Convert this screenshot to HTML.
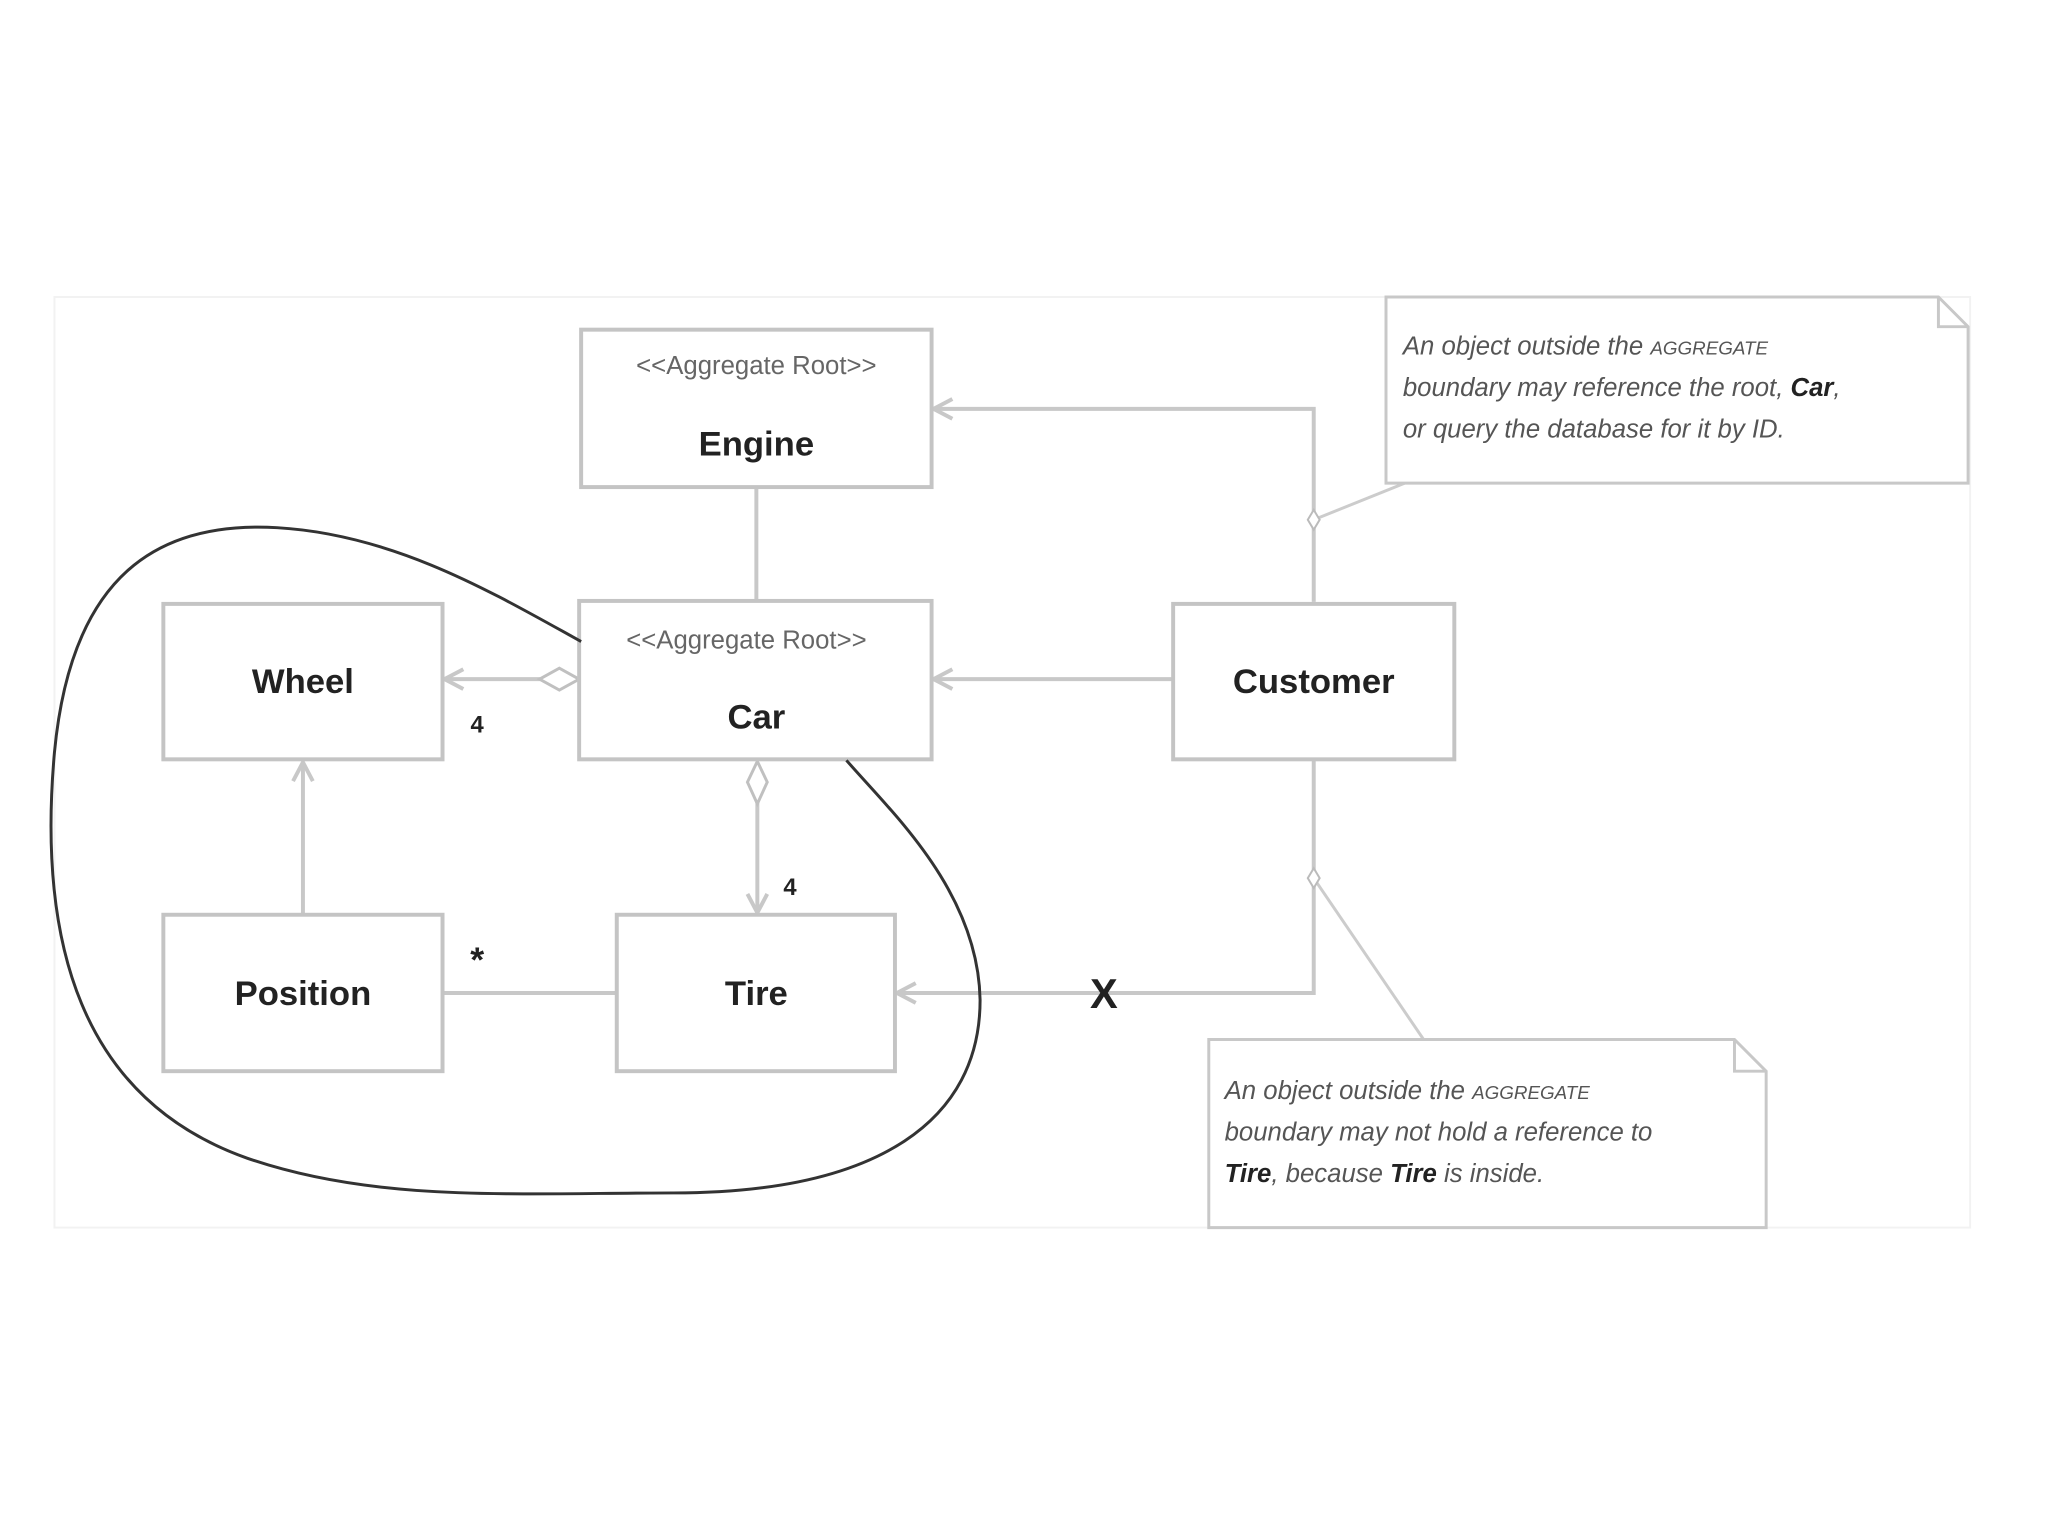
<!DOCTYPE html>
<html><head><meta charset="utf-8"><style>
html,body{margin:0;padding:0;background:#fff;}
svg{display:block;}
.b{fill:#fff;stroke:#c4c4c4;stroke-width:4;}
.st{font-family:"Liberation Sans",sans-serif;font-size:26px;fill:#666;}
.nm{font-family:"Liberation Sans",sans-serif;font-size:35px;font-weight:bold;fill:#222;}
.ln{stroke:#c8c8c8;stroke-width:4;fill:none;}
.nt{font-family:"Liberation Sans",sans-serif;font-size:26px;font-style:italic;fill:#555;}
.sc{font-size:19px;}
</style></head><body>
<svg width="2048" height="1536" viewBox="0 0 2048 1536" xmlns="http://www.w3.org/2000/svg">
<g transform="scale(0.99)">
<rect x="55" y="300" width="1935" height="940" fill="none" stroke="#f2f2f2" stroke-width="2"/>
<line class="ln" x1="764" y1="492" x2="764" y2="607"/>
<polyline class="ln" points="1327,608 1327,413 943,413"/>
<polyline class="ln" points="962,403 943,413 962,423"/>
<line class="ln" x1="1185" y1="686" x2="943" y2="686"/>
<polyline class="ln" points="962,676 943,686 962,696"/>
<polyline class="ln" points="1327,767 1327,1003 906,1003"/>
<polyline class="ln" points="925,993 906,1003 925,1013"/>
<line class="ln" x1="585" y1="686" x2="449" y2="686"/>
<polygon points="585,686 565,675 545,686 565,697" fill="#fff" stroke="#c0c0c0" stroke-width="3"/>
<polyline class="ln" points="468,676 449,686 468,696"/>
<line class="ln" x1="765" y1="810" x2="765" y2="922"/>
<polygon points="765,769 755,790 765,812 775,790" fill="#fff" stroke="#c0c0c0" stroke-width="3"/>
<polyline class="ln" points="755,903 765,922 775,903"/>
<line class="ln" x1="306" y1="924" x2="306" y2="770"/>
<polyline class="ln" points="296,789 306,770 316,789"/>
<line class="ln" x1="449" y1="1003" x2="623" y2="1003"/>
<polyline stroke="#ccc" stroke-width="3" fill="none" points="1327,525 1419,488"/>
<polygon points="1327,515 1321,525 1327,535 1333,525" fill="#fff" stroke="#bbb" stroke-width="2"/>
<polyline stroke="#ccc" stroke-width="3" fill="none" points="1327,887 1438,1050"/>
<polygon points="1327,877 1321,887 1327,897 1333,887" fill="#fff" stroke="#bbb" stroke-width="2"/>
<rect class="b" x="587" y="333" width="354" height="159"/>
<text class="st" x="764" y="378" text-anchor="middle">&lt;&lt;Aggregate Root&gt;&gt;</text>
<text class="nm" x="764" y="460" text-anchor="middle">Engine</text>
<rect class="b" x="585" y="607" width="356" height="160"/>
<text class="st" x="754" y="655" text-anchor="middle">&lt;&lt;Aggregate Root&gt;&gt;</text>
<text class="nm" x="764" y="736" text-anchor="middle">Car</text>
<rect class="b" x="165" y="610" width="282" height="157"/>
<text class="nm" x="306" y="700" text-anchor="middle">Wheel</text>
<rect class="b" x="1185" y="610" width="284" height="157"/>
<text class="nm" x="1327" y="700" text-anchor="middle">Customer</text>
<rect class="b" x="165" y="924" width="282" height="158"/>
<text class="nm" x="306" y="1015" text-anchor="middle">Position</text>
<rect class="b" x="623" y="924" width="281" height="158"/>
<text class="nm" x="764" y="1015" text-anchor="middle">Tire</text>
<text x="482" y="740" font-family="Liberation Sans,sans-serif" font-weight="bold" font-size="24" fill="#222" text-anchor="middle">4</text>
<text x="798" y="904" font-family="Liberation Sans,sans-serif" font-weight="bold" font-size="24" fill="#222" text-anchor="middle">4</text>
<text x="482" y="982" font-family="Liberation Sans,sans-serif" font-weight="bold" font-size="36" fill="#222" text-anchor="middle">*</text>
<text x="1115" y="1018" font-family="Liberation Sans,sans-serif" font-weight="bold" font-size="42" fill="#222" text-anchor="middle">X</text>
<path d="M1400,300 L1958,300 L1988,330 L1988,488 L1400,488 Z" fill="#fff" stroke="#c8c8c8" stroke-width="3"/>
<polyline points="1958,300 1958,330 1988,330" fill="none" stroke="#c8c8c8" stroke-width="3"/>
<text class="nt" x="1417" y="358">An object outside the <tspan class="sc">AGGREGATE</tspan></text>
<text class="nt" x="1417" y="400">boundary may reference the root, <tspan font-weight="bold" fill="#222">Car</tspan>,</text>
<text class="nt" x="1417" y="442">or query the database for it by ID.</text>
<path d="M1221,1050 L1752,1050 L1784,1082 L1784,1240 L1221,1240 Z" fill="#fff" stroke="#c8c8c8" stroke-width="3"/>
<polyline points="1752,1050 1752,1082 1784,1082" fill="none" stroke="#c8c8c8" stroke-width="3"/>
<text class="nt" x="1237" y="1110">An object outside the <tspan class="sc">AGGREGATE</tspan></text>
<text class="nt" x="1237" y="1152">boundary may not hold a reference to</text>
<text class="nt" x="1237" y="1194"><tspan font-weight="bold" fill="#222">Tire</tspan>, because <tspan font-weight="bold" fill="#222">Tire</tspan> is inside.</text>
<path d="M587,648 C500,600 400,540 280,533 C160,526 72,580 55,760 C38,950 80,1110 250,1170 C380,1215 520,1205 680,1205 C890,1205 990,1130 990,1010 C988,900 900,820 855,768" fill="none" stroke="#333" stroke-width="3"/>
</g>
</svg>
</body></html>
